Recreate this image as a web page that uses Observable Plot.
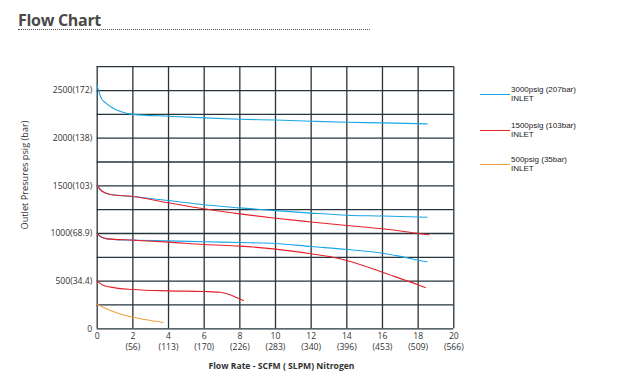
<!DOCTYPE html>
<html><head><meta charset="utf-8">
<script src="https://cdn.jsdelivr.net/npm/d3@7"></script>
<script src="https://cdn.jsdelivr.net/npm/@observablehq/plot@0.6"></script>
<style>
body{margin:0;background:#fff;}
#wrap{position:relative;width:625px;height:382px;overflow:hidden;font-family:"Open Sans",sans-serif;color:#333;}
#chart{position:absolute;left:0;top:0;}
.title{position:absolute;left:18px;top:12px;width:352px;font-weight:700;font-size:16px;line-height:17px;color:#4a4a4a;border-bottom:1px dotted #555;letter-spacing:-0.3px;}
.ytitle{position:absolute;left:24px;top:175px;transform:translate(-50%,-50%) rotate(-90deg);white-space:nowrap;font-size:9.2px;color:#333;}
.xtitle{position:absolute;left:281.5px;top:366px;transform:translate(-50%,-50%);white-space:nowrap;font-size:8.6px;font-weight:700;color:#333;}
.lg-line{position:absolute;left:480px;width:30px;height:1px;}
.lg-text{position:absolute;left:511px;font-family:"Liberation Sans",Arial,sans-serif;font-size:8px;line-height:8.8px;color:#222;white-space:nowrap;}
</style>
</head><body>
<div id="wrap">
  <div id="chart"></div>
  <div class="title" id="title"></div>
  <div class="ytitle" id="ytitle"></div>
  <div class="xtitle" id="xtitle"></div>
  <div id="legend"></div>
</div>
<script>
// ---- text ----
const titleText = "Flow Chart";
const yTitle = "Outlet Presures psig (bar)";
const xTitle = "Flow Rate - SCFM ( SLPM) Nitrogen";

// ---- ticks ----
const xTicks = [0, 2, 4, 6, 8, 10, 12, 14, 16, 18, 20];
const xTickLabels = ["0", "2\n(56)", "4\n(113)", "6\n(170)", "8\n(226)", "10\n(283)", "12\n(340)", "14\n(396)", "16\n(453)", "18\n(509)", "20\n(566)"];
const yGridTicks = [0, 250, 500, 750, 1000, 1250, 1500, 1750, 2000, 2250, 2500, 2750];
const yLabelTicks = [0, 500, 1000, 1500, 2000, 2500];
const yTickLabels = ["0", "500(34.4)", "1000(68.9)", "1500(103)", "2000(138)", "2500(172)"];

// ---- legend ----
const seriesNames = ["3000psig (207bar)", "1500psig (103bar)", "500psig (35bar)"];
const seriesSub = ["INLET", "INLET", "INLET"];
const seriesColors = ["#1aa7e6", "#e8202a", "#eba23c"];

// ---- curves (x = SCFM, y = outlet psig) ----
// 3000 psig inlet, 2500 set
const c3000a_x = [0, 0.2, 0.5, 0.8, 1.3, 2, 4, 6, 8, 10, 12, 14, 16, 18.5];
const c3000a_y = [2550, 2430, 2365, 2325, 2280, 2250, 2230, 2213, 2199, 2190, 2178, 2167, 2161, 2150];
// 3000 psig inlet, 1500 set
const c3000b_x = [0, 0.3, 0.75, 2, 4, 6, 8, 10, 12, 14, 16, 18.5];
const c3000b_y = [1500, 1440, 1409, 1388, 1346, 1301, 1269, 1240, 1214, 1192, 1183, 1171];
// 3000 psig inlet, 1000 set
const c3000c_x = [0, 0.2, 0.56, 2, 4, 6, 8, 10, 12, 14, 16, 17, 18, 18.5];
const c3000c_y = [1000, 965, 944, 930, 923, 913, 905, 895, 863, 832, 793, 760, 720, 703];
// 1500 psig inlet, 1500 set
const c1500a_x = [0, 0.3, 0.75, 2, 4, 6, 8, 10, 12, 14, 16, 18, 18.6];
const c1500a_y = [1500, 1440, 1409, 1388, 1322, 1259, 1206, 1160, 1121, 1084, 1049, 1000, 986];
// 1500 psig inlet, 1000 set
const c1500b_x = [0, 0.2, 0.56, 2, 4, 6, 8, 10, 12, 13.5, 14, 16, 17.2, 18, 18.4];
const c1500b_y = [1000, 965, 944, 930, 909, 884, 867, 836, 787, 741, 717, 594, 514, 462, 433];
// 1500 psig inlet, 500 set
const c1500c_x = [0, 0.3, 0.75, 2, 4, 6, 6.9, 7.5, 7.85, 8.2];
const c1500c_y = [500, 460, 437, 412, 398, 391, 383, 355, 325, 297];
// 500 psig inlet, 250 set
const c500_x = [0, 1, 2, 3, 3.7];
const c500_y = [255, 174, 122, 87, 66];

const curves = [
  {x: c3000a_x, y: c3000a_y, s: 0},
  {x: c3000b_x, y: c3000b_y, s: 0},
  {x: c3000c_x, y: c3000c_y, s: 0},
  {x: c1500a_x, y: c1500a_y, s: 1},
  {x: c1500b_x, y: c1500b_y, s: 1},
  {x: c1500c_x, y: c1500c_y, s: 1},
  {x: c500_x, y: c500_y, s: 2}
];

const xLab = new Map(xTicks.map((t, i) => [t, xTickLabels[i]]));
const yLab = new Map(yLabelTicks.map((t, i) => [t, yTickLabels[i]]));

const lineMarks = curves.map(c => Plot.line(c.x.map((v, i) => ({x: v, y: c.y[i]})), {
  x: "x", y: "y", stroke: seriesColors[c.s], strokeWidth: 1.1, curve: "monotone-x"
}));

const chart = Plot.plot({
  width: 625, height: 382,
  marginLeft: 96.7, marginRight: 171.7, marginTop: 66.2, marginBottom: 53.7,
  x: {domain: [0, 20]},
  y: {domain: [0, 2750]},
  style: {fontFamily: "'Open Sans', sans-serif", fontSize: "8.6px", color: "#333", background: "transparent", overflow: "visible"},
  marks: [
    Plot.gridY(yGridTicks, {stroke: "#26343c", strokeOpacity: 1, strokeWidth: 1.3}),
    Plot.gridX(xTicks, {stroke: "#26343c", strokeOpacity: 1, strokeWidth: 1.3}),
    Plot.axisY(yLabelTicks, {tickSize: 0, tickPadding: 5, tickFormat: d => yLab.get(d), label: null}),
    Plot.axisX(xTicks, {tickSize: 0, tickPadding: 2, tickFormat: d => xLab.get(d), label: null, lineHeight: 1.32}),
    ...lineMarks
  ]
});
document.getElementById("chart").appendChild(chart);

document.getElementById("title").textContent = titleText;
document.getElementById("ytitle").textContent = yTitle;
document.getElementById("xtitle").textContent = xTitle;

const lineTops = [94, 130, 164];
const textTops = [86.2, 121.9, 156.2];
const lg = document.getElementById("legend");
seriesNames.forEach((n, i) => {
  const l = document.createElement("div");
  l.className = "lg-line";
  l.style.top = lineTops[i] + "px";
  l.style.background = seriesColors[i];
  lg.appendChild(l);
  const t = document.createElement("div");
  t.className = "lg-text";
  t.style.top = textTops[i] + "px";
  t.innerHTML = n + "<br>" + seriesSub[i];
  lg.appendChild(t);
});
</script>
</body></html>
